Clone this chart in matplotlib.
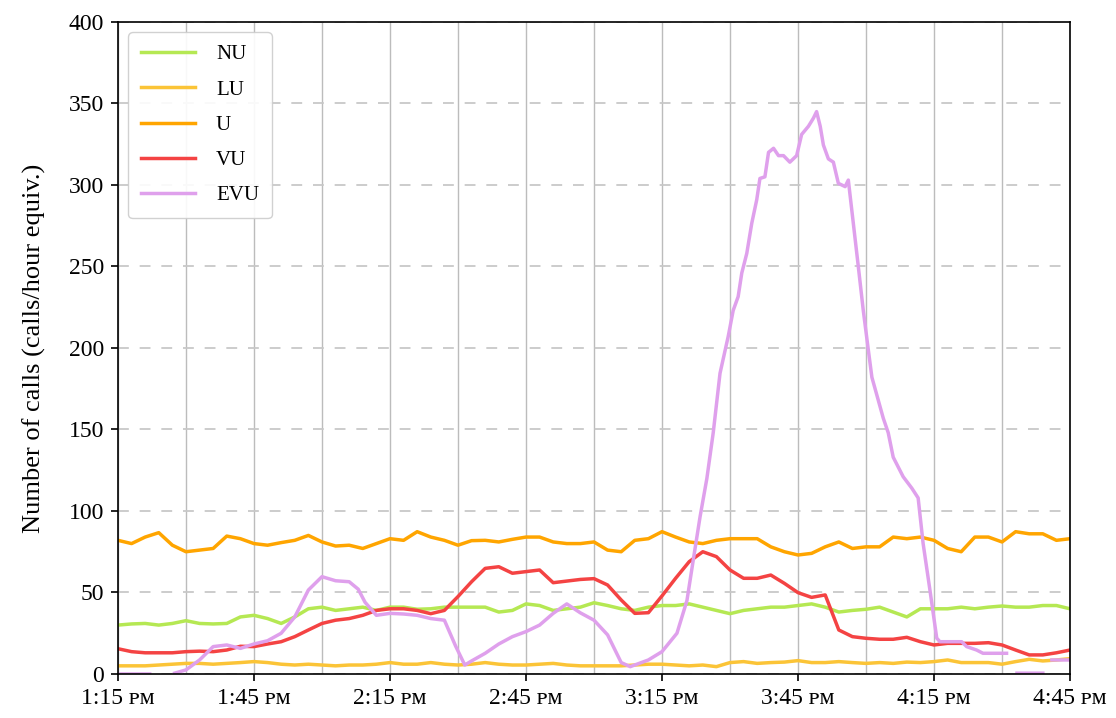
import numpy as np
import matplotlib
matplotlib.use("Agg")
import matplotlib.pyplot as plt
from matplotlib.ticker import MultipleLocator

plt.rcParams['font.family'] = ['Liberation Serif', 'DejaVu Serif']

# minutes after 1:15 pm, sampled every 3 minutes
minutes = np.arange(0, 211, 3)

nu = [30, 30.7, 31, 30, 31, 32.7, 31, 30.7, 31, 35, 36, 34, 31, 35, 40, 41, 39, 40,
      41, 39, 41, 41, 39.7, 40, 41, 41, 41, 41, 38, 39, 43, 42, 39, 40, 41, 43.7,
      42, 40, 39, 41, 42, 42, 43, 41, 39, 37, 39, 40, 41, 41, 42, 43, 41,
      38, 39, 39.7, 41, 38, 35, 40, 40, 40, 41, 40, 41, 41.7, 41, 41, 42, 42, 40]

lu = [5, 5, 5, 5.5, 6, 6.5, 6.5, 6, 6.5, 7, 7.6, 7, 6, 5.5, 6, 5.5, 5, 5.5,
      5.5, 6, 7, 6, 6, 7, 6, 5.5, 6, 7, 6, 5.5, 5.5, 6, 6.5, 5.5, 5, 5,
      5, 5, 5.5, 6, 6, 5.5, 5, 5.5, 4.5, 7, 7.6, 6.5, 7, 7.3, 8.2, 7, 7,
      7.6, 7, 6.5, 7, 6.5, 7.3, 7, 7.6, 8.6, 7, 7, 7, 6, 7.6, 9, 8, 8.6, 9.4]

u = [82, 80, 84, 86.7, 79, 75, 76, 77, 84.6, 83, 80, 79, 80.6, 82, 85, 81, 78.5, 79,
     77, 80, 83, 82, 87.3, 84, 82, 79, 81.8, 82, 81, 82.6, 84, 84, 81, 80, 80, 81,
     76, 75, 82, 83, 87.3, 84, 81, 80, 82, 83, 83, 83, 78, 75, 73, 74, 78,
     81, 77, 78, 78, 84, 83, 84, 82, 77, 75, 84, 84, 81, 87.3, 86, 86, 82, 83]

vu = [15.5, 13.7, 13, 13, 13, 13.7, 14, 13.7, 14.7, 17, 16.8, 18.4, 19.8, 22.9, 27, 31, 33, 34,
      36, 39, 40, 40, 39, 37, 39, 47.5, 56.6, 64.8, 65.8, 61.8, 62.8, 63.8, 56, 57, 58, 58.5,
      54.6, 45.4, 37.2, 37.6, 47.9, 58.7, 68.9, 75, 72, 63.8, 58.7, 58.7, 60.7, 55.6, 49.9, 47, 48.5,
      27, 22.9, 21.9, 21.3, 21.3, 22.5, 19.8, 17.8, 18.8, 18.8, 18.8, 19.2, 17.8, 14.7, 11.7, 11.7, 13, 14.7]

# EVU has its own time stamps (gaps are missing data)
evu_min = [0, 7, 9, 12.5, 15, 18, 21, 24, 27, 30, 33, 36, 39, 42, 45, 48, 51, 53, 54.5,
           57, 60, 63, 66, 69, 72, 74.5, 76.5, 78, 81, 84, 87, 90, 93, 96, 99, 102, 105,
           108, 111, 113, 117, 120, 123.3, 125.5, 126.9, 128.4, 129.9, 131.3, 132.8, 134.6,
           135.7, 136.8, 137.6, 138.7, 139.8, 140.9, 141.6, 142.7, 143.5, 144.6, 145.7,
           146.8, 148.2, 149.7, 150.8, 152.3, 153.4, 154.1, 154.9, 155.6, 156.7, 157.8,
           158.9, 160.4, 161.1, 162.2, 163.3, 164.4, 165.5, 166.3, 167.7, 168.8, 169.9,
           171, 173.2, 175.1, 176.5, 177.6, 179.1, 180.6, 181.3, 186.1, 187.2, 189.4,
           190.8, 196, 197, 198.3, 204, 205, 206, 210]
evu = [0, 0, np.nan, 0.5, 2.5, 8.6, 16.8, 17.8, 15.7, 18.4, 20.4, 25, 35, 51.5, 59.7, 57.2, 56.6, 52, 44,
       36, 37.2, 36.8, 36, 34, 33, 17, 5.5, 8, 12.7, 18.4, 22.9, 26, 30, 37.2, 43, 37.5, 33,
       24, 7, 4.5, 8.6, 13.7, 25, 45, 70, 96.5, 120, 148, 184.5, 207,
       223, 231.5, 246, 258, 276.5, 291, 304, 305, 320, 322.5, 318,
       318, 314, 318, 331, 336, 341, 345, 336, 324.5, 316, 314,
       301, 299, 303, 276.5, 250, 223, 199, 182, 168, 157, 148,
       133, 121, 114, 108, 80, 51.5, 22, 19.8, 19.8, 16.8, 14.7,
       12.7, 12.7, np.nan, 0.5, 0.5, np.nan, 8.6, 8.6]

tick_labels = ['1:15 ᴘᴍ', '1:45 ᴘᴍ', '2:15 ᴘᴍ', '2:45 ᴘᴍ',
               '3:15 ᴘᴍ', '3:45 ᴘᴍ', '4:15 ᴘᴍ', '4:45 ᴘᴍ']

fig = plt.figure(figsize=(11.16, 7.18), dpi=100)
ax = fig.add_axes([0.1057, 0.0613, 0.8531, 0.9081])

lw = 2.5
ax.plot(minutes, nu, color='#b5e853', lw=lw, label='NU')
ax.plot(minutes, lu, color='#fbc437', lw=lw, label='LU')
ax.plot(minutes, u, color='#ffa500', lw=lw, label='U')
ax.plot(minutes, vu, color='#f44343', lw=lw, label='VU')
ax.plot(evu_min, evu, color='#dfa0ec', lw=lw, label='EVU')

ax.set_xlim(0, 210)
ax.set_ylim(0, 400)
ax.xaxis.set_minor_locator(MultipleLocator(15))
ax.set_xticks(np.arange(0, 211, 30))
ax.set_xticklabels(tick_labels)
ax.yaxis.set_major_locator(MultipleLocator(50))

ax.grid(True, axis='x', which='both', color='#a0a0a0', lw=1, alpha=0.7)
ax.grid(True, axis='y', which='major', color='#c8c8c8', lw=1.3, dashes=(6, 6))
ax.set_axisbelow(True)
ax.tick_params(axis='x', which='minor', length=0)
ax.tick_params(axis='both', which='major', labelsize=17, length=5, width=1.2, pad=5)
for s in ax.spines.values():
    s.set_linewidth(1.2)

ax.set_ylabel('Number of calls (calls/hour equiv.)', fontsize=19, labelpad=16)

ax.legend(loc='upper left', fontsize=15, handlelength=2.6, handletextpad=1.0,
          borderpad=0.6, labelspacing=0.75, framealpha=0.9, edgecolor='#cccccc')

fig.savefig('out.png', dpi=100)
